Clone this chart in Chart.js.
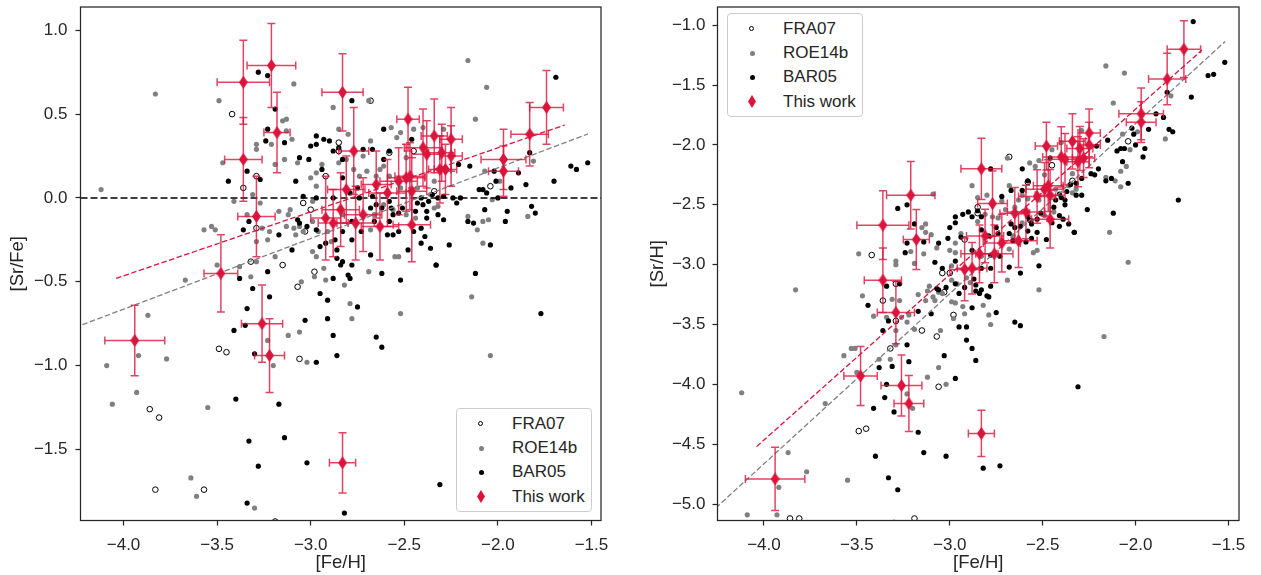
<!DOCTYPE html>
<html>
<head>
<meta charset="utf-8">
<title>[Sr/Fe] and [Sr/H] vs [Fe/H]</title>
<script src="https://cdn.jsdelivr.net/npm/chart.js@4.4.1/dist/chart.umd.min.js"></script>
<style>
  body { margin: 0; background: #fff; font-family: 'Liberation Sans', Arial, sans-serif; }
  #wrap { position: relative; width: 1261px; height: 575px; overflow: hidden; }
  #wrap canvas { position: absolute; top: 0; }
  .legend { position: absolute; width: 136px; height: 104px; box-sizing: border-box;
    background: #fff; border: 1px solid #ccc; border-radius: 4px; }
  .legend .row { position: absolute; left: 0; right: 0; height: 24px; }
  .legend .txt { position: absolute; left: 55px; top: 0; line-height: 24px; font-size: 17px; color: #262626; white-space: nowrap; }
  .legend .mk { position: absolute; }
</style>
</head>
<body>
<div id="wrap">
  <canvas id="left" width="630" height="575" style="left:0"></canvas>
  <canvas id="right" width="631" height="575" style="left:630px"></canvas>
</div>
<script>
// values: [Fe/H] and [Sr/Fe]; the right panel shows [Sr/H] = [Sr/Fe] + [Fe/H]
const fraFe = [-3.42, -3.36, -3.29, -3.29, -3.04, -3.00, -3.03, -2.85, -2.85, -3.32, -3.15, -2.92, -2.68, -2.58,
  -2.45, -2.04, -2.34, -3.07, -2.98, -3.49, -3.45, -3.06, -3.86, -3.81, -3.83, -3.57, -3.19];
const fraSrFe = [0.50, 0.06, 0.13, -0.18, -0.03, -0.07, -0.20, 0.33, 0.28, -0.38, -0.40, 0.13, 0.58, 0.27,
  0.28, 0.07, 0.04, -0.53, -0.44, -0.90, -0.92, -0.96, -1.26, -1.31, -1.74, -1.74, -1.93];

const roeFe = [-3.83, -3.49, -3.09, -4.12, -3.47, -3.29, -3.29, -3.21, -3.15, -3.13, -3.13, -3.10, -3.14, -3.19,
  -3.07, -2.88, -2.85, -2.85, -2.94, -2.97, -3.00, -2.97, -3.41, -3.31, -3.27, -3.17, -3.11, -3.12, -2.99,
  -3.57, -3.53, -3.51, -3.26, -3.22, -3.23, -3.13, -3.09, -3.08, -3.06, -3.04, -2.99, -2.96, -2.91, -2.89,
  -2.99, -2.97, -3.29, -3.19, -3.50, -3.34, -3.29,
  -2.16, -2.06, -2.12, -2.57, -2.52, -2.45, -2.40, -2.29, -2.68, -2.80, -2.72, -2.81, -2.69, -2.54, -2.61,
  -2.49, -2.63, -2.70, -1.81, -2.07, -1.99, -2.03, -2.16, -2.05, -2.08, -2.11, -2.08, -1.84, -2.55, -2.53,
  -2.68, -2.32, -2.36, -2.34, -2.77, -2.74, -2.65, -2.58, -2.52, -2.43, -2.61, -2.66, -2.56, -2.49, -2.83,
  -2.34, -2.44,
  -3.38, -3.32, -3.67, -3.87, -4.09, -3.92, -3.77, -3.93, -4.06, -3.55, -3.23, -3.20, -3.12, -3.06, -3.05,
  -2.98, -2.92, -2.93, -3.02, -2.82, -3.64, -3.61, -3.30,
  -2.69, -2.79, -2.78, -2.52, -2.14, -2.04, -2.17];
const roeSrFe = [0.62, 0.58, 0.68, 0.05, 0.21, 0.32, 0.29, 0.32, 0.46, 0.47, 0.40, 0.35, 0.23, 0.20,
  0.21, 0.54, 0.41, 0.21, 0.20, 0.15, 0.12, 0.07, -0.02, 0.02, -0.03, -0.08, -0.07, -0.10, -0.02,
  -0.19, -0.17, -0.19, -0.18, -0.20, -0.25, -0.17, -0.18, -0.22, -0.17, -0.20, -0.14, -0.20, -0.20, -0.26,
  -0.32, -0.35, -0.38, -0.35, -0.40, -0.10, -0.26,
  0.82, 0.66, 0.47, 0.42, 0.39, 0.41, 0.42, 0.41, 0.34, 0.38, 0.25, 0.23, 0.58, 0.36, 0.19,
  0.24, 0.17, 0.16, 0.22, 0.16, 0.10, -0.01, -0.11, -0.13, -0.14, -0.19, -0.27, -0.11, -0.35, -0.35,
  -0.19, -0.05, 0.02, 0.10, 0.17, 0.13, 0.13, 0.13, 0.06, 0.06, -0.04, -0.10, -0.07, -0.10, -0.10,
  -0.06, -0.12,
  -0.41, -0.47, -0.49, -0.70, -1.00, -0.94, -0.96, -1.16, -1.23, -1.25, -0.85, -1.00, -0.82, -0.80, -0.50,
  -0.47, -0.49, -0.42, -0.98, -0.52, -1.67, -1.78, -1.85,
  -0.44, -0.63, -0.72, -0.69, -0.59, -0.94, -1.43];

const barFe = [-3.28, -3.23, -3.19, -3.23, -3.24, -3.14, -3.06, -3.01, -2.97, -3.00, -2.97, -2.93, -2.90, -2.88,
  -2.85, -3.44, -3.34, -3.27, -3.08, -2.94, -2.83, -3.04, -2.97, -2.88, -3.33, -3.36, -3.17, -3.07, -3.06,
  -3.02, -2.97, -2.92, -2.95, -2.87, -2.86, -3.10, -2.83, -2.86, -2.83,
  -1.69, -1.52, -1.61, -1.58, -1.70, -1.83, -1.85, -1.93, -1.89, -2.02, -2.15, -2.21, -2.10, -2.08, -2.06,
  -2.01, -2.00, -1.82, -1.80, -1.95, -1.96, -2.07, -2.04, -2.13, -2.16, -2.20, -2.22, -2.24, -2.26, -2.29,
  -2.32, -2.37, -2.40, -2.38, -2.41, -2.39, -2.36, -2.44, -2.43, -2.46, -2.61, -2.78, -2.58, -2.67, -2.72,
  -2.61, -2.53, -2.68, -2.48, -2.53, -2.33,
  -2.83, -2.75, -2.79, -2.74, -2.67, -2.65, -2.68, -2.62, -2.58, -2.57, -2.56, -2.51, -2.41, -2.35, -2.32,
  -2.29, -2.58, -2.59, -2.78, -2.78, -2.66, -2.45, -2.38, -2.41, -2.73, -2.56,
  -3.38, -3.31, -3.23, -3.22, -3.34, -3.35, -3.41, -3.30, -3.40, -3.17, -3.33, -3.14, -3.28, -3.02, -3.34,
  -2.95, -2.91, -3.03, -2.91, -2.88, -2.97, -2.86, -2.88, -2.84, -2.82,
  -2.33, -2.12, -2.52, -2.62, -2.78, -2.80, -2.79, -2.75, -1.77, -2.65, -2.62, -2.31, -2.73];
const barSrFe = [0.75, 0.73, 0.53, 0.41, 0.34, 0.33, 0.24, 0.23, 0.37, 0.31, 0.32, 0.35, 0.34, 0.28,
  0.30, 0.10, 0.16, 0.11, 0.10, 0.17, 0.12, 0.01, 0.00, 0.00, -0.14, -0.19, -0.22, -0.13, -0.15,
  -0.17, -0.19, -0.27, -0.29, -0.25, -0.31, -0.31, -0.20, -0.36, -0.38,
  0.72, 0.21, 0.19, 0.17, 0.10, 0.27, 0.08, 0.06, 0.15, 0.16, 0.19, 0.20, 0.05, 0.05, 0.03,
  0.10, 0.00, -0.05, -0.09, -0.08, -0.14, -0.07, -0.28, -0.15, -0.14, 0.00, -0.03, 0.00, -0.28, -0.13,
  -0.10, -0.02, -0.04, -0.08, -0.27, -0.23, -0.30, -0.08, -0.03, 0.35, 0.41, 0.58, 0.28, 0.29, 0.29,
  0.23, -0.09, -0.34, -0.31, -0.20, -0.40,
  0.23, 0.06, 0.03, 0.00, 0.01, -0.04, -0.06, -0.06, -0.02, -0.06, -0.10, -0.06, 0.00, 0.02, 0.00,
  0.01, -0.14, -0.22, -0.25, -0.14, -0.14, -0.20, -0.12, -0.18, -0.20, -0.22,
  -0.48, -0.54, -0.44, -0.59, -0.66, -0.76, -0.79, -0.93, -1.20, -1.23, -1.45, -1.43, -1.60, -1.58, -1.82,
  -0.57, -0.61, -0.73, -0.72, -0.82, -0.98, -0.94, -0.48, -0.40, -1.88,
  -0.40, -0.45, -0.49, -0.45, -0.40, -0.46, -0.48, -0.65, -0.69, -0.83, -0.89, -1.71, -1.95];

// this work, with errors
const workFe = [-3.21, -3.36, -3.18, -3.36, -3.29, -2.83, -3.48, -3.94, -3.26, -3.22, -2.83, -2.48, -1.74,
  -1.83, -1.97, -1.97, -2.34, -2.25, -2.40, -2.38, -2.30, -2.25, -2.31, -2.28, -2.77, -2.53, -2.49, -2.47,
  -2.65, -2.81, -2.59, -2.46, -2.84, -2.72, -2.76, -2.63, -2.46, -2.92, -2.88];
const workSrFe = [0.79, 0.69, 0.39, 0.23, -0.11, 0.63, -0.45, -0.85, -0.75, -0.94, -1.58, 0.47, 0.54,
  0.38, 0.23, 0.16, 0.37, 0.35, 0.30, 0.26, 0.27, 0.25, 0.17, 0.17, 0.28, 0.10, 0.12, 0.13,
  0.08, 0.05, 0.03, 0.04, -0.07, -0.10, -0.15, -0.17, -0.16, -0.12, -0.15];
const workFeErr = [0.13, 0.14, 0.07, 0.10, 0.10, 0.11, 0.09, 0.16, 0.11, 0.08, 0.07, 0.06, 0.09,
  0.10, 0.12, 0.08, 0.07, 0.06, 0.10, 0.08, 0.07, 0.06, 0.06, 0.06, 0.08, 0.10, 0.10, 0.08,
  0.08, 0.10, 0.10, 0.08, 0.10, 0.10, 0.10, 0.10, 0.10, 0.08, 0.08];
const workSrFeErr = [0.25, 0.25, 0.24, 0.25, 0.24, 0.23, 0.23, 0.21, 0.23, 0.22, 0.18, 0.19, 0.22,
  0.19, 0.18, 0.15, 0.22, 0.19, 0.23, 0.20, 0.17, 0.18, 0.20, 0.15, 0.26, 0.20, 0.20, 0.20,
  0.20, 0.20, 0.20, 0.20, 0.22, 0.22, 0.22, 0.20, 0.22, 0.25, 0.20];

// dashed trend lines (end points)
const fitWorkFe = [-4.04, -1.643];
const fitWorkSrFe = [-0.48, 0.435];
const fitLitFe = [-4.26, -1.518];
const fitLitSrFe = [-0.773, 0.382];

const xTicks = [-4.0, -3.5, -3.0, -2.5, -2.0, -1.5];

const FONT = "'Liberation Sans', Arial, sans-serif";
const INK = '#262626';
const CRIMSON = '#dc143c';
Chart.defaults.font.family = FONT;
Chart.defaults.color = INK;

const fmt = (v) => (v < -1e-9 ? '\u2212' : '') + Math.abs(v).toFixed(1);
const pts = (xs, ys) => xs.map((x, i) => ({ x, y: ys[i] }));
const toSrH = (fe, srfe) => srfe.map((v, i) => v + fe[i]);

function thinDiamond(w, h, color) {
  const c = document.createElement('canvas');
  c.width = w; c.height = h;
  const g = c.getContext('2d');
  g.fillStyle = color;
  g.beginPath();
  g.moveTo(w / 2, 0); g.lineTo(w, h / 2); g.lineTo(w / 2, h); g.lineTo(0, h / 2);
  g.closePath(); g.fill();
  return c;
}
const diamond = thinDiamond(9, 13, CRIMSON);

const framePlugin = {
  id: 'frame',
  afterDatasetsDraw(chart) {
    const { ctx, chartArea: a } = chart;
    ctx.save();
    ctx.strokeStyle = INK;
    ctx.lineWidth = 1.25;
    ctx.strokeRect(a.left, a.top, a.width, a.height);
    ctx.restore();
  }
};

const errorBars = {
  id: 'errorBars',
  beforeDatasetDraw(chart, args) {
    const ds = chart.data.datasets[args.index];
    if (!ds.errX) return;
    const { ctx, chartArea: a, scales: { x, y } } = chart;
    ctx.save();
    ctx.beginPath(); ctx.rect(a.left, a.top, a.width, a.height); ctx.clip();
    ctx.strokeStyle = 'rgba(220,20,60,0.8)';
    ctx.lineWidth = 1.5;
    ds.data.forEach((p, i) => {
      const px = x.getPixelForValue(p.x), py = y.getPixelForValue(p.y);
      const x0 = x.getPixelForValue(p.x - ds.errX[i]), x1 = x.getPixelForValue(p.x + ds.errX[i]);
      const y0 = y.getPixelForValue(p.y - ds.errY[i]), y1 = y.getPixelForValue(p.y + ds.errY[i]);
      ctx.beginPath();
      ctx.moveTo(x0, py); ctx.lineTo(x1, py);
      ctx.moveTo(px, y0); ctx.lineTo(px, y1);
      ctx.moveTo(x0, py - 4); ctx.lineTo(x0, py + 4);
      ctx.moveTo(x1, py - 4); ctx.lineTo(x1, py + 4);
      ctx.moveTo(px - 4, y0); ctx.lineTo(px + 4, y0);
      ctx.moveTo(px - 4, y1); ctx.lineTo(px + 4, y1);
      ctx.stroke();
    });
    ctx.restore();
  }
};

function dashed(data, color, width, dash) {
  return { type: 'line', data, borderColor: color, borderWidth: width, borderDash: dash,
    pointRadius: 0, fill: false, showLine: true, clip: 0, order: 1 };
}

function makePanel(id, p) {
  const datasets = [
    { label: 'This work', data: pts(workFe, p.work), errX: workFeErr, errY: p.workErr,
      pointStyle: diamond, pointRadius: 6, clip: 0, order: 0 },
    dashed(pts(fitWorkFe, p.fitWork), CRIMSON, 1.3, [5.5, 2.5]),
    dashed(pts(fitLitFe, p.fitLit), '#808080', 1.3, [5.5, 2.5]),
    { label: 'BAR05', data: pts(barFe, p.bar), pointRadius: 2.6, pointBorderWidth: 0,
      pointBackgroundColor: '#000', clip: 0, order: 2 },
    { label: 'ROE14b', data: pts(roeFe, p.roe), pointRadius: 2.6, pointBorderWidth: 0,
      pointBackgroundColor: '#808080', clip: 0, order: 3 },
    { label: 'FRA07', data: pts(fraFe, p.fra), pointRadius: 2.8, pointBorderWidth: 1,
      pointBorderColor: '#000', pointBackgroundColor: 'rgba(0,0,0,0)', clip: 0, order: 4 }
  ];
  if (p.zeroLine) datasets.push(dashed([{ x: p.xMin, y: 0 }, { x: p.xMax, y: 0 }], '#000', 1.6, [7, 3]));

  const grid = { drawOnChartArea: false, drawTicks: true, tickLength: 5, tickColor: INK, tickWidth: 1.25 };
  new Chart(document.getElementById(id), {
    type: 'scatter',
    data: { datasets },
    options: {
      responsive: false, animation: false, devicePixelRatio: 1, events: [],
      layout: { padding: { top: 4, right: p.padRight, left: 0, bottom: 0 } },
      plugins: { legend: { display: false }, tooltip: { enabled: false } },
      scales: {
        x: {
          type: 'linear', min: p.xMin, max: p.xMax,
          afterBuildTicks: (s) => { s.ticks = xTicks.map((value) => ({ value })); },
          ticks: { callback: fmt, font: { size: 17 }, color: INK, padding: 10, maxRotation: 0, autoSkip: false },
          grid, border: { display: false },
          title: { display: true, text: '[Fe/H]', font: { size: 18.5 }, color: INK, padding: { top: 0, bottom: 1 } },
          afterFit: (s) => { s.height = 54.5; s.paddingLeft = 0; s.paddingRight = 0; }
        },
        y: {
          type: 'linear', min: p.yMin, max: p.yMax,
          afterBuildTicks: (s) => { s.ticks = p.yTicks.map((value) => ({ value })); },
          ticks: { callback: fmt, font: { size: 17 }, color: INK, padding: p.yPad, autoSkip: false },
          grid, border: { display: false },
          title: { display: true, text: p.yTitle, font: { size: 18.5 }, color: INK, padding: { top: p.titlePad, bottom: 0 } },
          afterFit: (s) => { s.width = p.yWidth; s.paddingTop = 0; s.paddingBottom = 0; }
        }
      }
    },
    plugins: [errorBars, framePlugin]
  });
}

const workErrH = workSrFeErr.map((e, i) => Math.hypot(e, workFeErr[i]));

makePanel('left', {
  xMin: -4.23, xMax: -1.449, yMin: -1.924, yMax: 1.139,
  yTicks: [1.0, 0.5, 0.0, -0.5, -1.0, -1.5], yTitle: '[Sr/Fe]',
  yWidth: 80.5, padRight: 29, yPad: 8, titlePad: 7,
  fra: fraSrFe, roe: roeSrFe, bar: barSrFe, work: workSrFe, workErr: workSrFeErr,
  fitWork: fitWorkSrFe, fitLit: fitLitSrFe, zeroLine: true
});

makePanel('right', {
  xMin: -4.25, xMax: -1.4435, yMin: -5.137, yMax: -0.848,
  yTicks: [-1.0, -1.5, -2.0, -2.5, -3.0, -3.5, -4.0, -4.5, -5.0], yTitle: '[Sr/H]',
  yWidth: 87.5, padRight: 22, yPad: 7, titlePad: 17,
  fra: toSrH(fraFe, fraSrFe), roe: toSrH(roeFe, roeSrFe), bar: toSrH(barFe, barSrFe),
  work: toSrH(workFe, workSrFe), workErr: workErrH,
  fitWork: toSrH(fitWorkFe, fitWorkSrFe), fitLit: toSrH(fitLitFe, fitLitSrFe), zeroLine: false
});

// legends drawn as boxes over the plot area
const legendItems = [
  { label: 'FRA07', mk: '<span class="mk" style="left:21px;top:9.5px;width:3px;height:3px;border:1px solid #000;border-radius:50%"></span>' },
  { label: 'ROE14b', mk: '<span class="mk" style="left:21.5px;top:10px;width:5px;height:5px;background:#808080;border-radius:50%"></span>' },
  { label: 'BAR05', mk: '<span class="mk" style="left:21.5px;top:10px;width:5px;height:5px;background:#000;border-radius:50%"></span>' },
  { label: 'This work', mk: '<svg class="mk" style="left:20px;top:5.5px" width="8" height="13"><polygon points="4,0 8,6.5 4,13 0,6.5" fill="' + CRIMSON + '"/></svg>' }
];
function addLegend(left, top) {
  const box = document.createElement('div');
  box.className = 'legend';
  box.style.left = left + 'px';
  box.style.top = top + 'px';
  box.innerHTML = legendItems.map((it, i) =>
    `<div class="row" style="top:${2.5 + i * 24.4}px">${it.mk}<span class="txt">${it.label}</span></div>`).join('');
  document.getElementById('wrap').appendChild(box);
}
addLegend(456, 408);
addLegend(727, 13);
</script>
</body>
</html>
